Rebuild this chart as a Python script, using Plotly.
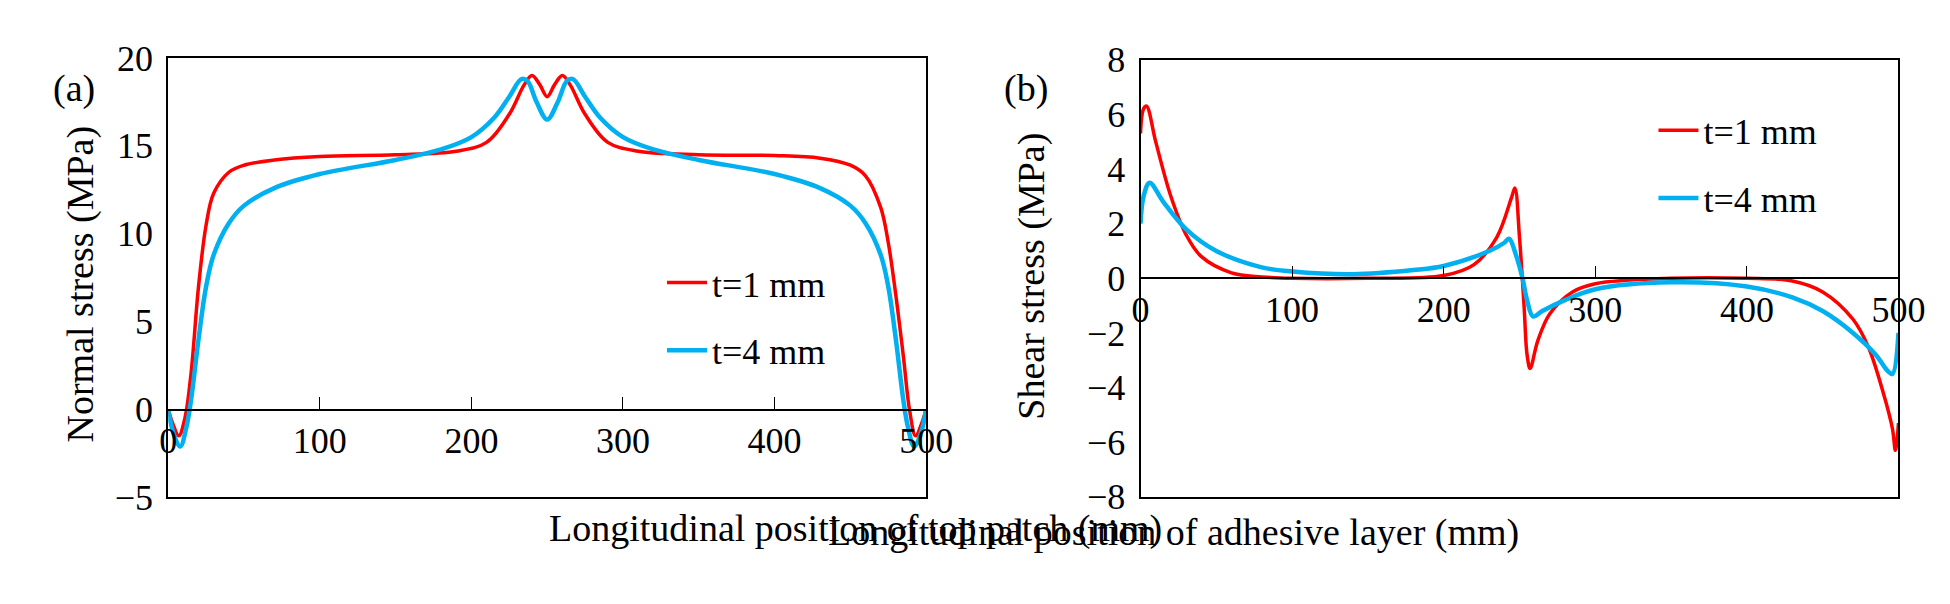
import plotly.graph_objects as go

# Normal stress along top patch (panel a)
xa_red = [0, 3, 7, 11, 15, 20, 25, 30, 40, 50, 70, 100, 150, 190, 210, 225, 235, 240, 245, 250, 255, 260, 265, 275, 290, 310, 350, 400, 430, 450, 460, 470, 475, 480, 485, 489, 493, 497, 500]
ya_red = [0, -0.8, -1.5, -0.5, 2, 7, 10.5, 12.3, 13.5, 13.9, 14.2, 14.4, 14.5, 14.7, 15.2, 16.8, 18.5, 19.0, 18.5, 17.8, 18.5, 19.0, 18.5, 16.8, 15.2, 14.7, 14.5, 14.45, 14.3, 13.9, 13.3, 11.5, 9.5, 6.5, 3, 0, -1.5, -0.8, 0]
xa_blue = [0, 4, 8, 12, 15, 20, 25, 30, 40, 50, 70, 100, 150, 180, 200, 215, 225, 233, 237, 243, 250, 257, 263, 267, 275, 285, 300, 320, 350, 400, 430, 450, 460, 470, 475, 480, 485, 488, 492, 496, 500]
ya_blue = [0, -1.5, -2.1, -1, 0.5, 4, 7, 8.8, 10.6, 11.6, 12.6, 13.4, 14.2, 14.8, 15.5, 16.6, 17.8, 18.8, 18.7, 17.5, 16.5, 17.5, 18.7, 18.8, 17.8, 16.6, 15.5, 14.8, 14.2, 13.4, 12.6, 11.6, 10.6, 8.8, 7, 4, 0.5, -1, -2.1, -1.5, 0]

# Shear stress along adhesive layer (panel b)
xb_red = [0, 2, 4, 10, 20, 30, 40, 60, 80, 100, 150, 200, 220, 235, 245, 247, 250, 253, 255, 257, 262, 270, 285, 300, 350, 400, 430, 450, 470, 480, 490, 496, 498, 500]
yb_red = [5.3, 6.2, 6.3, 5, 3, 1.6, 0.8, 0.2, 0.05, 0, 0, 0.1, 0.5, 1.5, 3.0, 3.3, 1.5, -1, -2.8, -3.3, -2.3, -1.3, -0.5, -0.2, 0, 0, -0.1, -0.5, -1.5, -2.5, -4.2, -5.5, -6.3, -5.3]
xb_blue = [0, 2, 6, 15, 30, 50, 80, 100, 140, 180, 200, 230, 240, 243, 248, 252, 255, 259, 265, 280, 300, 350, 400, 430, 450, 470, 485, 493, 496, 500]
yb_blue = [2.0, 3, 3.5, 2.8, 1.8, 1, 0.4, 0.25, 0.15, 0.3, 0.45, 1.0, 1.3, 1.45, 0.8, 0, -0.8, -1.4, -1.2, -0.8, -0.4, -0.15, -0.3, -0.7, -1.2, -2, -2.8, -3.4, -3.5, -2.0]

RED = "#ff0000"
BLUE = "#00b0f0"
FONT = "Liberation Serif"

fig = go.Figure()
fig.add_trace(go.Scatter(x=xa_red, y=ya_red, mode="lines", name="t=1 mm", legendgroup="a1", line=dict(color=RED, width=3.5, shape="spline"), xaxis="x", yaxis="y", legend="legend"))
fig.add_trace(go.Scatter(x=xa_blue, y=ya_blue, mode="lines", name="t=4 mm", legendgroup="a4", line=dict(color=BLUE, width=4.5, shape="spline"), xaxis="x", yaxis="y", legend="legend"))
fig.add_trace(go.Scatter(x=xb_red, y=yb_red, mode="lines", name="t=1 mm", legendgroup="b1", line=dict(color=RED, width=3.5, shape="spline"), xaxis="x2", yaxis="y2", legend="legend2"))
fig.add_trace(go.Scatter(x=xb_blue, y=yb_blue, mode="lines", name="t=4 mm", legendgroup="b4", line=dict(color=BLUE, width=4.5, shape="spline"), xaxis="x2", yaxis="y2", legend="legend2"))

ya_dom = [0.166, 0.945]
yb_dom = [0.167, 0.942]
box = dict(showline=True, linecolor="black", linewidth=2, mirror=True, showgrid=False, zeroline=False)
tickf = dict(family=FONT, size=36, color="black")
legf = dict(family=FONT, size=36, color="black")

fig.update_layout(
    width=1950, height=604, margin=dict(l=0, r=0, t=0, b=0),
    plot_bgcolor="white", paper_bgcolor="white",
    font=dict(family=FONT, size=36, color="black"),
    xaxis=dict(domain=[0.079, 0.475], range=[0, 500], anchor="y", showticklabels=False, ticks="", **box),
    yaxis=dict(domain=ya_dom, range=[-5, 20], dtick=5, anchor="x", ticks="", tickfont=tickf, ticklabelstandoff=6, **box),
    xaxis2=dict(domain=[0.587, 0.983], range=[0, 500], anchor="y2", showticklabels=False, ticks="", **box),
    yaxis2=dict(domain=yb_dom, range=[-8, 8], dtick=2, anchor="x2", ticks="", tickfont=tickf, ticklabelstandoff=6, **box),
    # axes drawn through zero with ticks pointing up
    xaxis3=dict(overlaying="x", range=[0, 500], dtick=100, anchor="free",
                position=ya_dom[0] + 0.2 * (ya_dom[1] - ya_dom[0]), showline=True, linecolor="black",
                linewidth=1.5, ticks="inside", ticklen=12, tickcolor="black", showgrid=False, tickfont=tickf, side="bottom"),
    xaxis4=dict(overlaying="x2", range=[0, 500], dtick=100, anchor="free",
                position=yb_dom[0] + 0.5 * (yb_dom[1] - yb_dom[0]), showline=True, linecolor="black",
                linewidth=1.5, ticks="inside", ticklen=12, tickcolor="black", showgrid=False, tickfont=tickf, side="bottom"),
    legend=dict(x=0.337, y=0.6, xanchor="left", yanchor="top", bgcolor="rgba(0,0,0,0)",
                font=legf, tracegroupgap=18, itemwidth=40),
    legend2=dict(x=0.855, y=0.87, xanchor="left", yanchor="top", bgcolor="rgba(0,0,0,0)",
                 font=legf, tracegroupgap=18, itemwidth=40),
)
# invisible traces so the overlay axes render
fig.add_trace(go.Scatter(x=[0], y=[0], xaxis="x3", yaxis="y", showlegend=False, mode="markers", marker=dict(opacity=0), hoverinfo="skip"))
fig.add_trace(go.Scatter(x=[0], y=[0], xaxis="x4", yaxis="y2", showlegend=False, mode="markers", marker=dict(opacity=0), hoverinfo="skip"))

ann = [
    dict(text="Longitudinal position of top patch (mm)", x=0.277, y=562),
    dict(text="Longitudinal position of adhesive layer (mm)", x=0.786, y=566),
    dict(text="(a)", x=0.018, y=41),
    dict(text="(b)", x=0.527, y=41),
    dict(text="Normal stress (MPa)", x=0.021, y=275, textangle=-90),
    dict(text="Shear stress (MPa)", x=0.530, y=267, textangle=-90),
]
for a in ann:
    fig.add_annotation(text=a["text"], x=a["x"], y=1 - a["y"] / 604, xref="paper", yref="paper",
                       showarrow=False, textangle=a.get("textangle", 0),
                       font=dict(family=FONT, size=38, color="black"))

fig.write_html("out.html")
